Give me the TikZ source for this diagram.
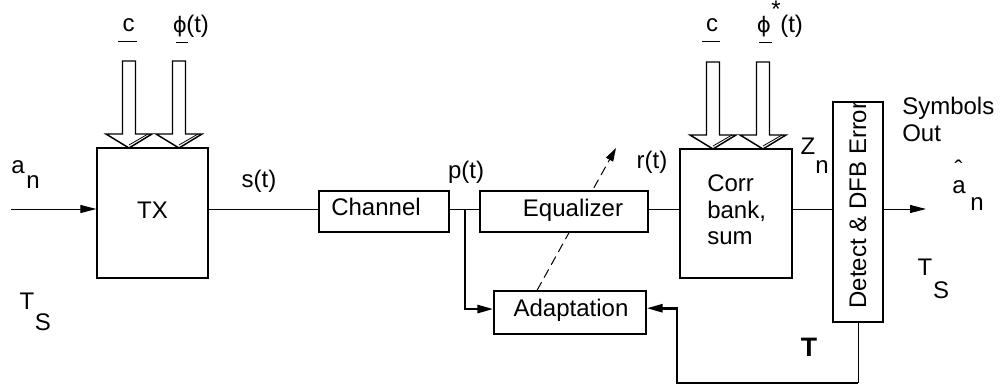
\documentclass[tikz,border=0pt]{standalone}
\usepackage{fontspec}
\setmainfont{Liberation Sans}
\newfontfamily\dvfont{DejaVu Sans}
\newcommand{\myphi}{{\dvfont\fontsize{16}{18}\selectfont ϕ}}
\usetikzlibrary{arrows.meta,calc}
\begin{document}
\begin{tikzpicture}[x=0.75pt,y=-0.75pt,
  every node/.style={font=\fontsize{18}{20}\selectfont, inner sep=0pt},
  box/.style={draw, line width=0.9pt, fill=white, rectangle},
  sig/.style={line width=0.75pt},
  fat/.style={line width=2pt},
  arr/.style={-{Triangle[length=12pt,width=6pt]}},
  hollow/.pic={\draw[line width=1.1pt, fill=white] (-6.5,-87) -- (-6.5,-14) -- (-23,-14) -- (0,0) -- (23,-14) -- (6.5,-14) -- (6.5,-87) -- cycle;
    \draw[line width=0.6pt] (0,-3) -- (19,-14);}
]
\useasboundingbox (0,0) rectangle (1003,389);
\coordinate (yl) at (0,209);
\coordinate (in) at (11,209);
\coordinate (out) at (926,209);
\coordinate (br) at (465,209);
\coordinate (fbB) at (677,383);
\coordinate (dtip) at (616,148);

% boxes
\node[box, minimum width=83.25pt, minimum height=97.5pt] (tx) at (152.5,213) {};
\node (txT) at (152.5,210) {TX};
\node[box, minimum width=97.5pt, minimum height=30.75pt] (ch) at (384,211.5) {};
\node (chT) at (376,207) {Channel};
\node[box, minimum width=114pt, minimum height=32.25pt] (ad) at (570,312.5) {};
\node (adT) at (571,310) {Adaptation};
\draw[sig, dash pattern=on 7pt off 4pt, -{Triangle[length=10pt,width=6pt]}] ([xshift=-24.75pt]ad.north) -- (dtip);
\node[box, minimum width=126pt, minimum height=30.75pt] (eq) at (564,211.5) {};
\node (eqT) at (573,210) {Equalizer};
\node[box, minimum width=84pt, minimum height=96.75pt] (corr) at (736,213.5) {};
\node[align=left, anchor=west] (corrT) at (707,210) {Corr\\bank,\\sum};
\node[box, minimum width=37.5pt, minimum height=165pt] (det) at (858,212) {};
\node[rotate=90] (detT) at (858,205) {Detect \& DFB Error};

% hollow arrows
\pic at (129,148) {hollow};
\pic at (179,148) {hollow};
\pic at (713,149) {hollow};
\pic at (763,149) {hollow};

% signal lines
\draw[sig,arr] (in) -- (tx.west |- yl);
\draw[sig] (tx.east |- yl) -- (ch.west |- yl);
\draw[sig] (ch.east |- yl) -- (eq.west |- yl);
\draw[sig] (eq.east |- yl) -- (corr.west |- yl);
\draw[sig] (corr.east |- yl) -- (det.west |- yl);
\draw[sig,arr] (det.east |- yl) -- (out);
\draw[fat,arr] (br) |- ([yshift=2.6pt]ad.west);
\draw[sig] (det.south) -- (det.south |- fbB);
\draw[fat,arr] (det.south |- fbB) -- (fbB) |- ([yshift=3.2pt]ad.east);

% labels
\node (lc) at (128.5,25) {c};
\draw[sig] (118,41) -- (137,41);
\node[anchor=base] (lphi) at (180,32) {\myphi};
\node[anchor=base west] (lt) at (186,32) {(t)};
\draw[sig] (176,42) -- (188,42);
\node (rc) at (712,25) {c};
\draw[sig] (702,41) -- (720,41);
\node[anchor=base] (rphi) at (764,32) {\myphi};
\node[anchor=north] (rstar) at (776,1) {*};
\node[anchor=base west] (rt) at (780,32) {(t)};
\draw[sig] (759,42) -- (772,42);

\node (an1) at (18,167) {a};
\node (an2) at (33,182) {n};
\node (ts1) at (27,301) {T};
\node (ts2) at (43,322) {S};
\node (st) at (259,181) {s(t)};
\node (pt) at (466,172) {p(t)};
\node (rtl) at (652,162) {r(t)};
\node (z1) at (808,146) {Z};
\node (z2) at (822,167) {n};
\node[anchor=west] (sym) at (902,108) {Symbols};
\node[anchor=west] (outl) at (902,133) {Out};
\node[anchor=base] (hat) at (958.5,177) {\smash{ˆ}};
\node (ah1) at (959,187) {a};
\node (ah2) at (977,204) {n};
\node (rts1) at (925,267) {T};
\node (rts2) at (941,290) {S};
\node[font=\fontsize{20}{22}\selectfont\bfseries] (bigT) at (809,347) {T};
\end{tikzpicture}
\end{document}
